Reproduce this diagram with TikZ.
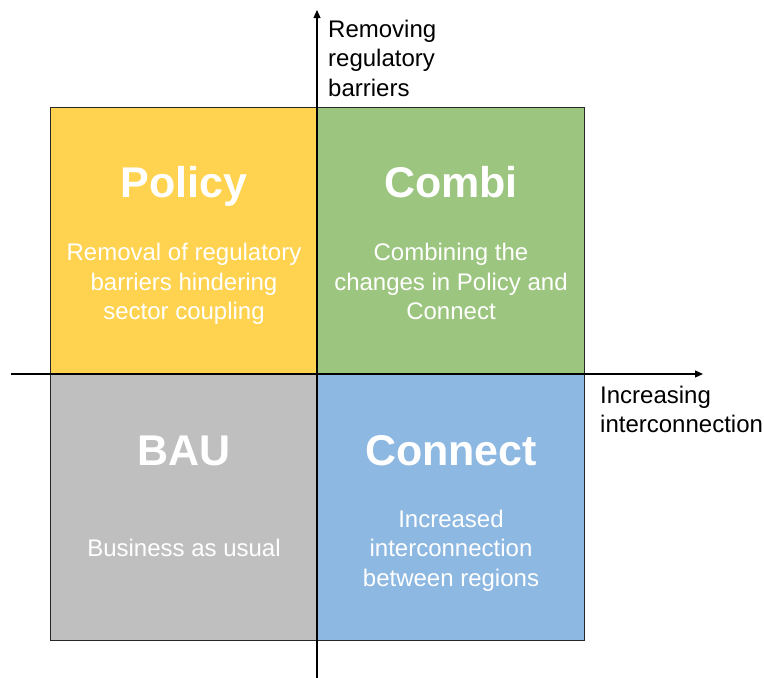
\documentclass[tikz,border=0pt]{standalone}
\usepackage{fontspec}
\setmainfont{Liberation Sans}
\usetikzlibrary{positioning, arrows.meta}
\definecolor{policyfill}{HTML}{FFD34F}
\definecolor{combifill}{HTML}{9CC57F}
\definecolor{baufill}{HTML}{BFBFBF}
\definecolor{connectfill}{HTML}{8DB8E1}

\begin{document}
\begin{tikzpicture}[
        x=1pt, y=-1pt,
        quad/.style={draw=black!85,line width=1pt,minimum width=267pt,minimum height=267pt,inner sep=0pt},
        qtitle/.style={text=white,font=\fontsize{43}{50}\selectfont\bfseries,anchor=base,inner sep=0pt},
        qdesc/.style={text=white,font=\fontsize{24}{29.5}\selectfont,align=center,inner sep=0pt},
        axlabel/.style={font=\fontsize{24}{29.5}\selectfont,align=left,anchor=north west,inner sep=0pt},
        axis/.style={line width=1.2pt,-{Triangle[length=8pt,width=7pt]}},
      ]
      \useasboundingbox (0,0) rectangle (764,678);
      % quadrants
      \node[quad,fill=policyfill] (policy) at (183.5,240.5) {};
      \node[quad,fill=combifill] (combi) at (451,240.5) {};
      \node[quad,fill=baufill] (bau) at (183.5,507) {};
      \node[quad,fill=connectfill] (connect) at (451,507) {};
      \node[qtitle] (policyT) at (184,197) {Policy};
      \node[qtitle] (combiT) at (451,197) {Combi};
      \node[qtitle] (bauT) at (184,465) {BAU};
      \node[qtitle] (connectT) at (451,465) {Connect};
      \node[qdesc] (policyD) at (184,283.8) {Removal of regulatory\\barriers hindering\\sector coupling};
      \node[qdesc] (combiD) at (451,281.5) {Combining the\\changes in Policy and\\Connect};
      \node[qdesc,anchor=base] (bauD) at (184,556) {Business as usual};
      \node[qdesc] (connectD) at (451,550.4) {Increased\\interconnection\\between regions};
      % axes
      \coordinate (ybot) at (317,678);
      \coordinate (ytop) at (317,10);
      \coordinate (xleft) at (11,374);
      \coordinate (xright) at (703,374);
      \draw[axis] (ybot) -- (ytop);
      \draw[axis] (xleft) -- (xright);
      \node[axlabel] (ylab) at (328,19.8) {Removing\\regulatory\\barriers};
      \node[axlabel] (xlab) at (600,385.8) {Increasing\\interconnection};
    \end{tikzpicture}
\end{document}
